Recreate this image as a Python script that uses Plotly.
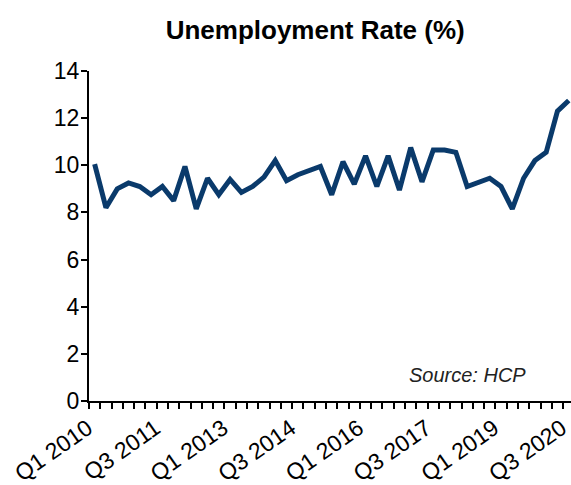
import plotly.graph_objects as go

quarters = [f"Q{q} {y}" for y in range(2010, 2021) for q in range(1, 5)][:43]
unemployment = [10.05, 8.2, 9.0, 9.25, 9.1, 8.75, 9.1, 8.5, 9.95, 8.15,
                9.45, 8.75, 9.4, 8.85, 9.1, 9.5, 10.2, 9.35, 9.6, 9.75,
                9.95, 8.75, 10.15, 9.2, 10.4, 9.1, 10.4, 8.95, 10.75, 9.3,
                10.65, 10.65, 10.55, 9.1, 9.3, 9.45, 9.1, 8.15, 9.45, 10.2,
                10.55, 12.3, 12.75]
label_idx = list(range(0, 43, 6))
tick_labels = [quarters[i] for i in label_idx]
y_ticks = [0, 2, 4, 6, 8, 10, 12, 14]

FONT = "Liberation Sans, Arial, sans-serif"
n = len(quarters)
xs = list(range(n))

fig = go.Figure()
fig.add_trace(go.Scatter(x=xs, y=unemployment, mode="lines",
                         line=dict(color="#0A3A6B", width=5),
                         hoverinfo="skip", showlegend=False, cliponaxis=False))

fig.update_layout(
    width=571, height=485,
    margin=dict(l=89, r=0, t=71, b=84, autoexpand=False),
    paper_bgcolor="white", plot_bgcolor="white",
    font=dict(family=FONT, color="black"),
    title=dict(text="<b>Unemployment Rate (%)</b>", x=0.552, xanchor="center",
               y=1 - 30 / 485, yanchor="middle", yref="container",
               font=dict(size=26, family=FONT, color="black")),
    xaxis=dict(range=[-0.5, n - 0.5 - 0.3], tickmode="array",
               tickvals=label_idx, ticktext=tick_labels, tickangle=-35,
               ticks="", showgrid=False, zeroline=False, automargin=False,
               ticklabelstandoff=3, ticklabelshift=-7, ticklabeloverflow="allow",
               showline=True, linecolor="black", linewidth=2,
               tickfont=dict(size=23, family=FONT, color="black"),
               minor=dict(tickmode="array", tickvals=[i - 0.5 for i in range(n + 1)],
                          ticks="outside", ticklen=6, tickwidth=2,
                          tickcolor="black", showgrid=False)),
    yaxis=dict(range=[0, 14], tickmode="array", tickvals=y_ticks,
               ticks="outside", ticklen=6, tickwidth=2, tickcolor="black",
               showgrid=False, zeroline=False, showline=True, automargin=False,
               ticklabelstandoff=-3,
               linecolor="black", linewidth=2,
               tickfont=dict(size=23, family=FONT, color="black")),
    annotations=[dict(text="<i>Source: HCP</i>", xref="paper", yref="paper",
                      x=(528 - 89) / 482, y=(401 - 375) / 330, xanchor="right",
                      yanchor="middle", showarrow=False,
                      font=dict(size=20, family=FONT, color="#222222"))],
)

fig.write_html("out.html", config={"displayModeBar": False},
               post_script="document.body.style.margin='0';document.body.style.overflow='hidden';")
